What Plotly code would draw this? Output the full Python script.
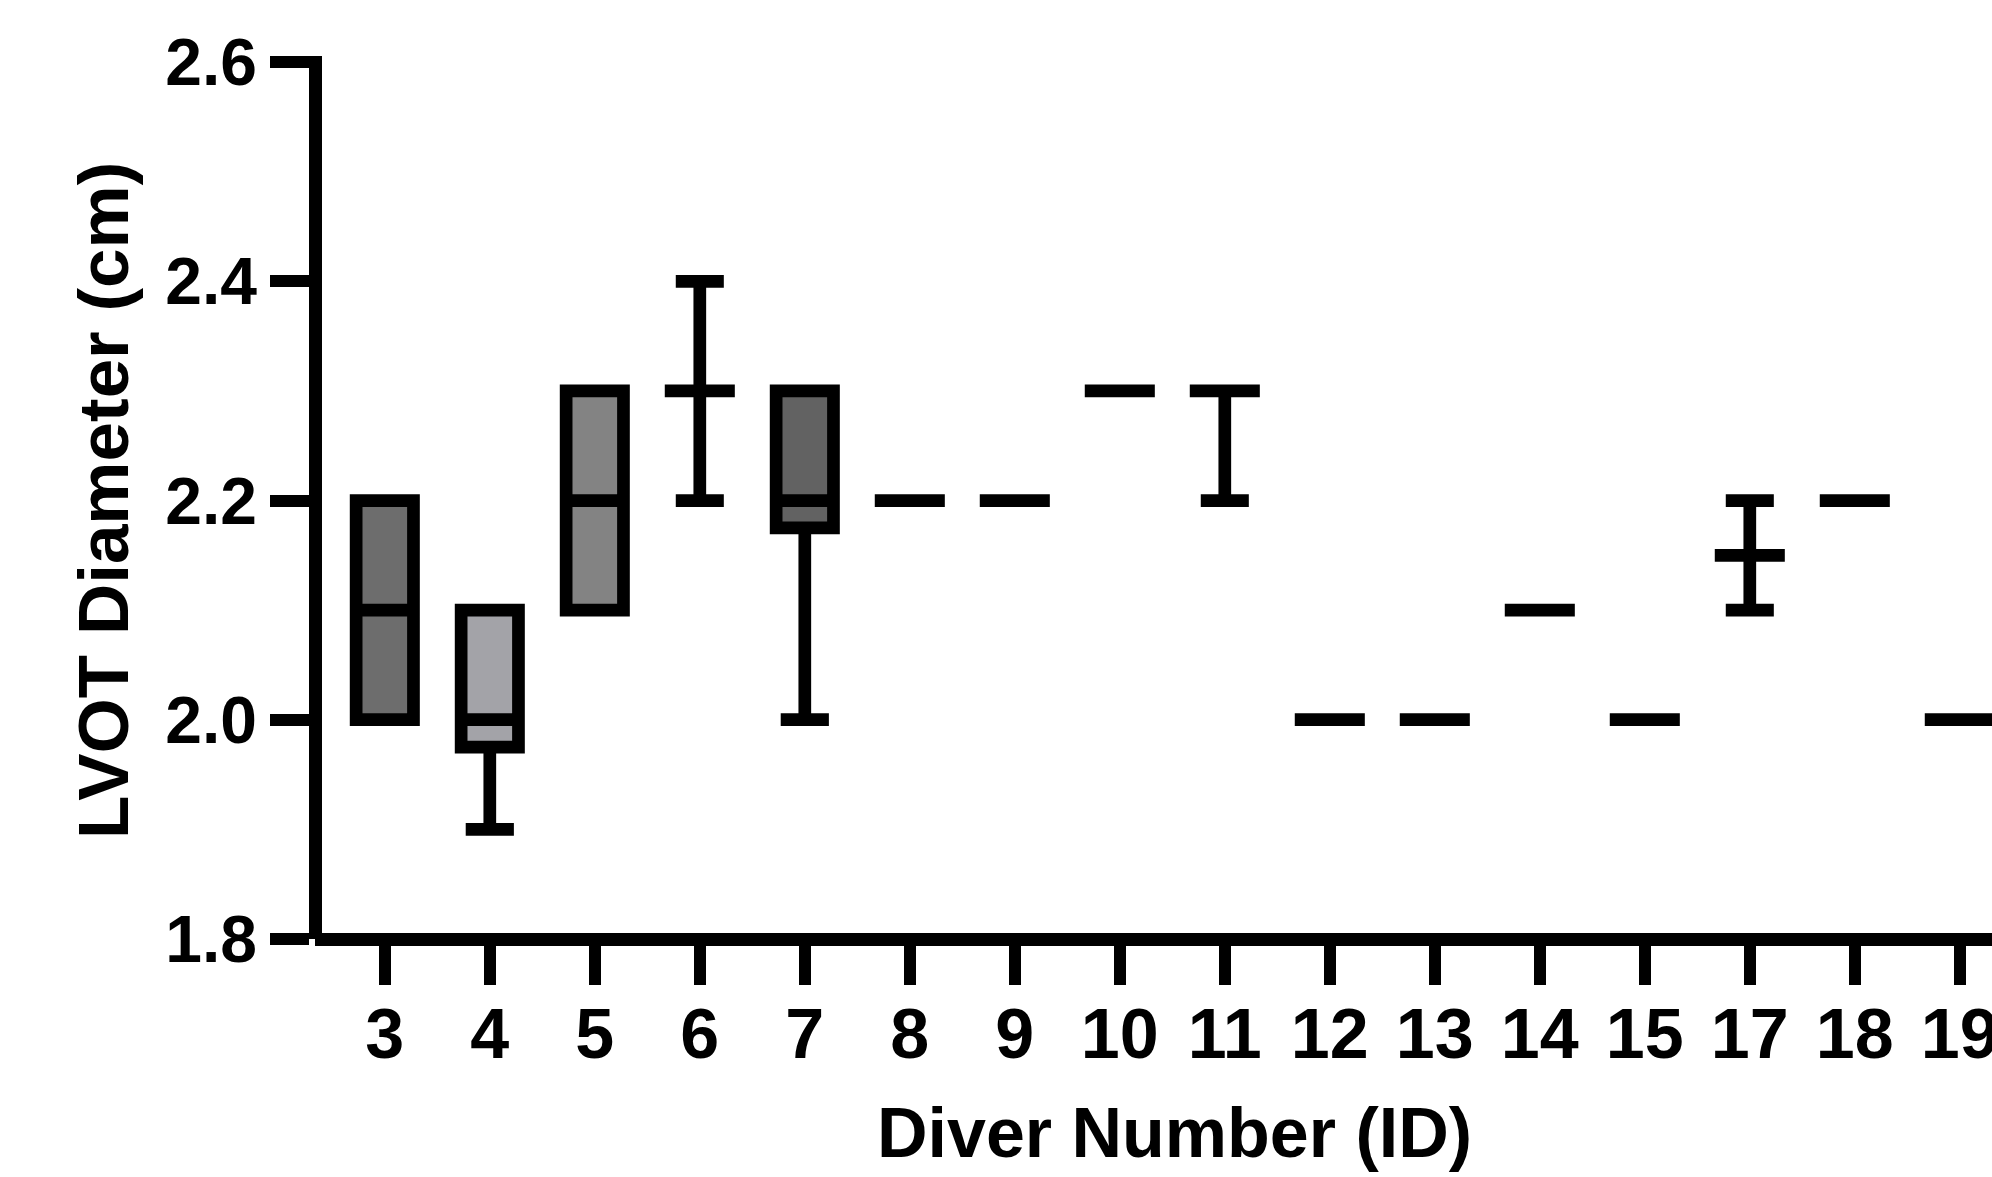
import plotly.graph_objects as go

# ---- data ----
diver_ids = ["3", "4", "5", "6", "7", "8", "9", "10", "11", "12", "13", "14", "15", "17", "18", "19"]
q1_vals     = [2.0, 1.975, 2.1, 2.3, 2.175, 2.2, 2.2, 2.3, 2.3, 2.0, 2.0, 2.1, 2.0, 2.15, 2.2, 2.0]
median_vals = [2.1, 2.0,   2.2, 2.3, 2.2,   2.2, 2.2, 2.3, 2.3, 2.0, 2.0, 2.1, 2.0, 2.15, 2.2, 2.0]
q3_vals     = [2.2, 2.1,   2.3, 2.3, 2.3,   2.2, 2.2, 2.3, 2.3, 2.0, 2.0, 2.1, 2.0, 2.15, 2.2, 2.0]
min_vals    = [2.0, 1.9,   2.1, 2.2, 2.0,   2.2, 2.2, 2.3, 2.2, 2.0, 2.0, 2.1, 2.0, 2.1,  2.2, 2.0]
max_vals    = [2.2, 2.1,   2.3, 2.4, 2.3,   2.2, 2.2, 2.3, 2.3, 2.0, 2.0, 2.1, 2.0, 2.2,  2.2, 2.0]
fill_colors = ["#6d6d6d", "#a3a3a8", "#838383", "#ffffff", "#626262", "#ffffff", "#ffffff", "#ffffff",
               "#ffffff", "#ffffff", "#ffffff", "#ffffff", "#ffffff", "#ffffff", "#ffffff", "#ffffff"]
y_ticks = [1.8, 2.0, 2.2, 2.4, 2.6]

FONT = "Liberation Sans, Arial, Helvetica, sans-serif"
LW = 12.7

L, R, T, B = 315, 0, 56, 238
W, H = 1992, 1177
PW, PH = W - L - R, H - T - B

fig = go.Figure()
for i, cat in enumerate(diver_ids):
    is_box = q3_vals[i] > q1_vals[i]
    fig.add_trace(go.Box(
        x=[cat],
        q1=[q1_vals[i]], median=[median_vals[i]], q3=[q3_vals[i]],
        lowerfence=[min_vals[i]], upperfence=[max_vals[i]],
        fillcolor=fill_colors[i],
        line=dict(color="black", width=LW),
        width=0.546 if is_box else 0.667,
        whiskerwidth=0.84 if is_box else 0.686,
        boxpoints=False,
        showlegend=False,
        hoverinfo="skip",
    ))

fig.update_layout(
    template="none",
    width=W, height=H,
    margin=dict(l=L, r=R, t=T, b=B, pad=0),
    paper_bgcolor="white", plot_bgcolor="white",
    boxmode="overlay",
    font=dict(family=FONT, color="black"),
    xaxis=dict(
        type="category", automargin=False,
        anchor="free", position=0,
        categoryorder="array", categoryarray=diver_ids,
        range=[-0.6648, 15.3067],
        showline=True, linewidth=LW, linecolor="black",
        ticks="outside", ticklen=39, tickwidth=12, tickcolor="black",
        ticklabelstandoff=-11,
        tickfont=dict(family=FONT, size=70, color="black", weight="bold"),
        showgrid=False, zeroline=False,
    ),
    yaxis=dict(
        automargin=False,
        anchor="free", position=0,
        range=[1.7999, 2.60566],
        tickvals=y_ticks, tickformat=".1f",
        showline=True, linewidth=LW, linecolor="black",
        ticks="outside", ticklen=39, tickwidth=12, tickcolor="black",
        ticklabelstandoff=0,
        tickfont=dict(family=FONT, size=66, color="black", weight="bold"),
        showgrid=False, zeroline=False,
    ),
    annotations=[
        dict(text="<b>Diver Number (ID)</b>", xref="paper", yref="paper",
             x=(1174 - L) / PW, y=(H - B - 1133.4) / PH,
             xanchor="center", yanchor="middle", showarrow=False,
             font=dict(family=FONT, size=70, color="black")),
        dict(text="<b>LVOT Diameter (cm)</b>", xref="paper", yref="paper",
             x=(103.4 - L) / PW, y=(H - B - 500.5) / PH,
             xanchor="center", yanchor="middle", showarrow=False, textangle=-90,
             font=dict(family=FONT, size=71, color="black")),
    ],
)

fig.write_html("out.html")
